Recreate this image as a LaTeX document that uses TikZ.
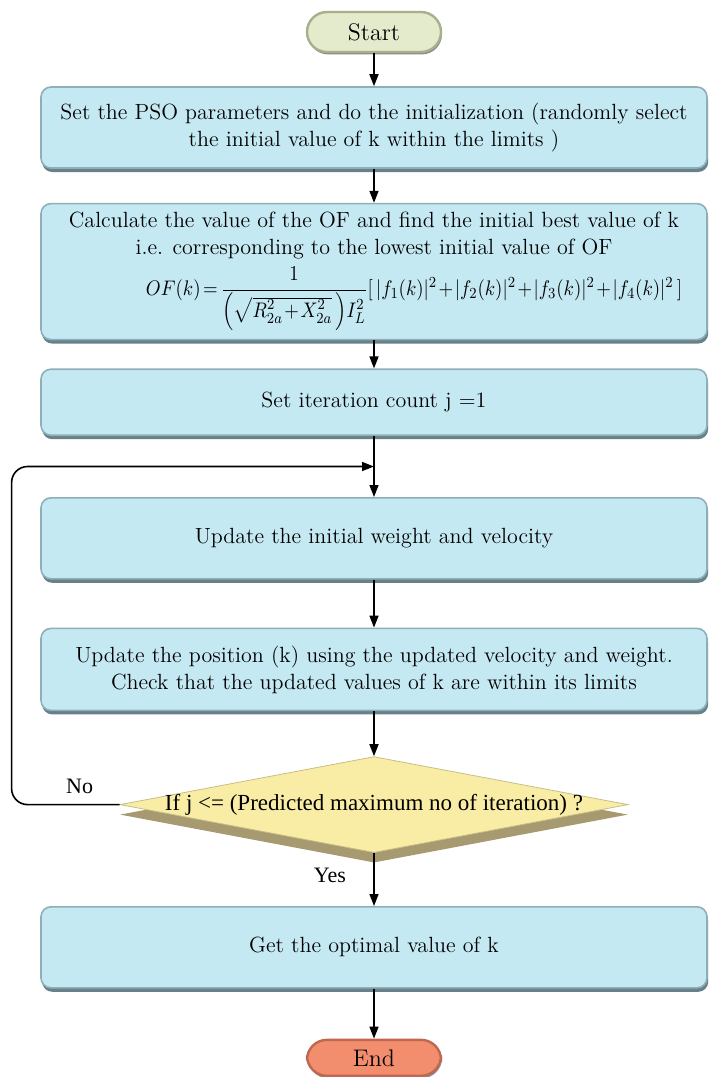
\documentclass[tikz,border=0pt]{standalone}
\usepackage{amsmath}
\usepackage{graphicx}
\usepackage{fontspec}
\newfontfamily\labelfont{Liberation Serif}
\usetikzlibrary{calc, positioning, shapes.geometric, shadows, arrows.meta}

\definecolor{boxfill}{HTML}{C5E9F3}
\definecolor{boxedge}{HTML}{8FAFB8}
\definecolor{boxshade}{HTML}{66818A}
\definecolor{startfill}{HTML}{E4EBCC}
\definecolor{startedge}{HTML}{A7AF8B}
\definecolor{endfill}{HTML}{F28D6E}
\definecolor{endedge}{HTML}{BF684F}
\definecolor{askfill}{HTML}{F9EDA6}
\definecolor{askshade}{HTML}{A89A70}

\begin{document}
\begin{tikzpicture}[
  font=\fontsize{11}{13.5}\selectfont,
  box/.style={draw=boxedge, line width=0.8pt, fill=boxfill, rounded corners=5pt,
    minimum width=333pt, align=center,
    drop shadow={shadow xshift=0.6pt, shadow yshift=-2pt, fill=boxshade, opacity=1}},
  term/.style={line width=1.2pt, rounded corners=10pt, minimum width=67pt, minimum height=20pt,
    font=\fontsize{12}{14}\selectfont,
    drop shadow={shadow xshift=0.5pt, shadow yshift=-1.2pt, fill=black!45, opacity=1}},
  decision/.style={diamond, inner sep=0pt, minimum width=254pt, minimum height=48pt,
    fill=askfill, draw=askfill!80!black, line width=0.4pt,
    drop shadow={shadow xshift=0pt, shadow yshift=-5pt, fill=askshade, opacity=1}},
  tag/.style={font=\labelfont\fontsize{11}{12}\selectfont},
  arrow/.style={-{Triangle[length=6pt, width=4.5pt]}, line width=0.8pt}
]
\useasboundingbox (0,0) rectangle (355pt,-538.5pt);

% Flow blocks
\node[term, fill=startfill, draw=startedge] (start) at (187pt,-16pt) {Start};
\node[box, minimum height=40.5pt, below=16.5pt of start] (init)
  {Set the PSO parameters and do the initialization (randomly select\\the initial value of k within the limits )};
\node[box, minimum height=68pt, below=17pt of init] (eval)
  {Calculate the value of the OF and find the initial best value of k\\
   i.e. corresponding to the lowest initial value of OF\\[3pt]
   \hspace*{40pt}\scalebox{1}[1.12]{\resizebox{268pt}{!}{\medmuskip=1.5mu\thickmuskip=2.5mu
   $OF(k)=\dfrac{1}{\Bigl(\sqrt{R_{2a}^2+X_{2a}^2}\,\Bigr)I_L^2}
   [\,|f_1(k)|^2+|f_2(k)|^2+|f_3(k)|^2+|f_4(k)|^2\,]$}}};
\node[box, minimum height=33pt, below=14pt of eval] (count) {Set iteration count j =1};
\node[box, minimum height=40.5pt, below=30.5pt of count] (upd) {Update the initial weight and velocity};
\node[box, minimum height=41pt, below=24pt of upd] (pos)
  {Update the position (k) using the updated velocity and weight.\\Check that the updated values of k are within its limits};
\node[decision, below=22.5pt of pos] (check)
  {\makebox[0pt]{\labelfont\fontsize{11.5}{12}\selectfont If j <= (Predicted maximum no of iteration) ?}};
\node[box, minimum height=40.5pt, below=26.5pt of check] (best) {Get the optimal value of k};
\node[term, fill=endfill, draw=endedge, minimum height=18pt, below=25pt of best] (fin) {End};

% Connectors
\coordinate (merge) at ($(count.south)!0.5!(upd.north)$);
\draw[arrow] (start) -- (init);
\draw[arrow] (init) -- (eval);
\draw[arrow] (eval) -- (count);
\draw[arrow] (count) -- (upd);
\draw[arrow] (upd) -- (pos);
\draw[arrow] (pos) -- (check);
\draw[arrow] (check) -- (best);
\draw[arrow] (best) -- (fin);
\draw[arrow, rounded corners=8pt] (check.west) -- ++(-54pt,0) |- (merge);

% Branch labels
\node[tag] (no) at ([xshift=-20pt, yshift=9pt]check.west) {No};
\node[tag] (yes) at ([xshift=-22pt, yshift=-11pt]check.south) {Yes};

\end{tikzpicture}
\end{document}
